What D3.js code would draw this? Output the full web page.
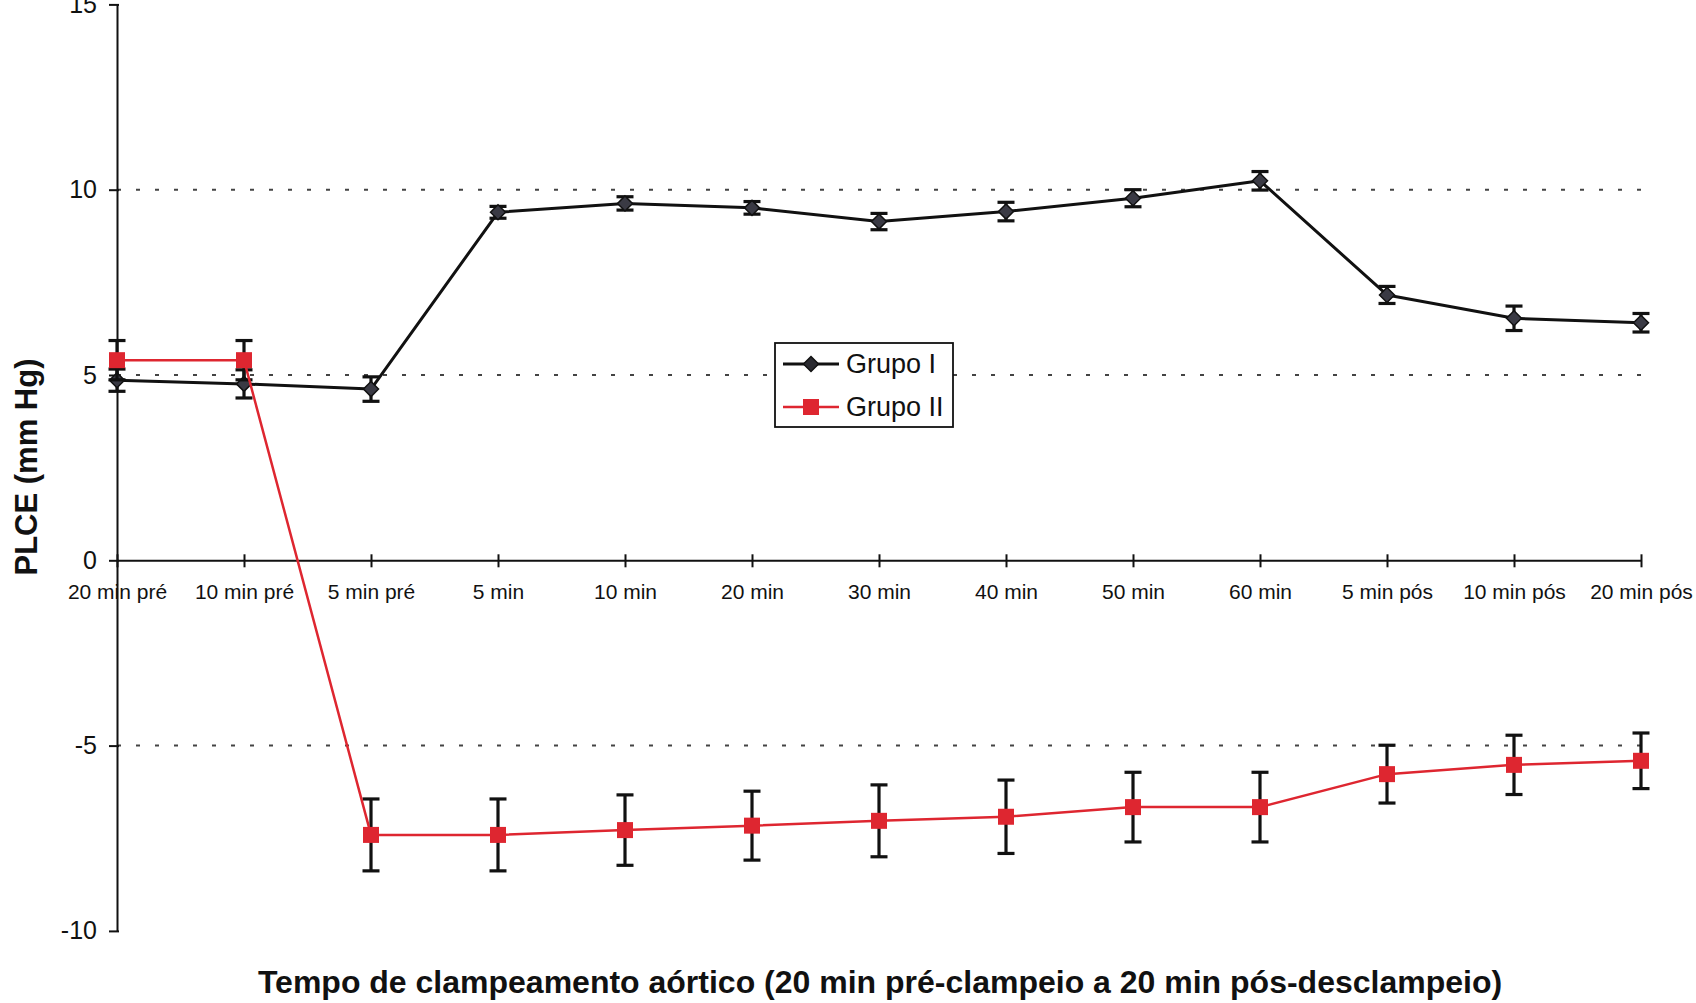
<!DOCTYPE html>
<html>
<head>
<meta charset="utf-8">
<script src="https://cdn.jsdelivr.net/npm/d3@7"></script>
<style>
  html, body { margin: 0; padding: 0; background: #fff; }
  svg { display: block; }
  text { font-family: "Liberation Sans", Arial, Helvetica, sans-serif; fill: #111; }
</style>
</head>
<body>
<svg id="chart" width="1696" height="1003"></svg>
<script>
const categories = ["20 min pré","10 min pré","5 min pré","5 min","10 min","20 min","30 min","40 min","50 min","60 min","5 min pós","10 min pós","20 min pós"];
const grupo1 = [4.86, 4.76, 4.62, 9.39, 9.63, 9.51, 9.14, 9.41, 9.77, 10.24, 7.16, 6.53, 6.41];
const grupo1Err = [0.30, 0.38, 0.33, 0.16, 0.18, 0.17, 0.22, 0.25, 0.23, 0.25, 0.23, 0.33, 0.25];
const grupo2 = [5.40, 5.40, -7.41, -7.41, -7.28, -7.16, -7.03, -6.92, -6.66, -6.66, -5.77, -5.52, -5.41];
const grupo2Err = [0.53, 0.53, 0.97, 0.97, 0.95, 0.93, 0.97, 0.99, 0.94, 0.94, 0.78, 0.80, 0.75];
const yTicks = [-10, -5, 0, 5, 10, 15];
const yTickLabels = ["-10", "-5", "0", "5", "10", "15"];
const gridValues = [-5, 5, 10];
const seriesNames = ["Grupo I", "Grupo II"];
const yTitle = "PLCE (mm Hg)";
const xTitle = "Tempo de clampeamento aórtico (20 min pré-clampeio a 20 min pós-desclampeio)";

const svg = d3.select("#chart");
svg.append("rect").attr("width", 1696).attr("height", 1003).attr("fill", "#fff");

const x = d3.scalePoint().domain(categories).range([117, 1641]);
const y = d3.scaleLinear().domain([-10, 15]).range([930.9, 4.4]);

const RED = "#de2630";

// gridlines (dotted)
svg.append("g").selectAll("line").data(gridValues).join("line")
  .attr("x1", x.range()[0]).attr("x2", x.range()[1])
  .attr("y1", d => y(d)).attr("y2", d => y(d))
  .attr("stroke", "#444").attr("stroke-width", 2)
  .attr("stroke-dasharray", "4 15");

// y axis
const yAxis = d3.axisLeft(y).tickValues(yTicks).tickSizeInner(8).tickSizeOuter(0).tickPadding(12)
  .tickFormat((d, i) => yTickLabels[i]);
const gy = svg.append("g").attr("transform", `translate(${x.range()[0]},0)`).call(yAxis);
gy.select(".domain").attr("stroke", "#111").attr("stroke-width", 2);
gy.selectAll(".tick line").attr("stroke", "#111").attr("stroke-width", 2).attr("x2", -8).attr("x1", 2);
gy.selectAll(".tick text").attr("font-size", 25).attr("fill", "#111")
  .style("font-family", '"Liberation Sans", Arial, sans-serif');

// x axis at y=0
const xAxis = d3.axisBottom(x).tickSizeInner(7).tickSizeOuter(0).tickPadding(17);
const gx = svg.append("g").attr("transform", `translate(0,${y(0)})`).call(xAxis);
gx.select(".domain").attr("stroke", "#111").attr("stroke-width", 2);
gx.selectAll(".tick line").attr("stroke", "#111").attr("stroke-width", 2).attr("y1", -6);
gx.selectAll(".tick text").attr("font-size", 21).attr("fill", "#111")
  .style("font-family", '"Liberation Sans", Arial, sans-serif');

// series drawing
function drawSeries(vals, errs, color, lineW, markerType) {
  const g = svg.append("g");
  const pts = categories.map((c, i) => ({c, v: vals[i], e: errs[i]}));
  const eb = g.append("g").attr("stroke", "#111").attr("stroke-width", 3.2).attr("fill", "none");
  eb.selectAll("line.v").data(pts).join("line").attr("class", "v")
    .attr("x1", d => x(d.c)).attr("x2", d => x(d.c))
    .attr("y1", d => y(d.v + d.e)).attr("y2", d => y(d.v - d.e));
  eb.selectAll("line.t").data(pts).join("line").attr("class", "t")
    .attr("x1", d => x(d.c) - 8.5).attr("x2", d => x(d.c) + 8.5)
    .attr("y1", d => y(d.v + d.e)).attr("y2", d => y(d.v + d.e));
  eb.selectAll("line.b").data(pts).join("line").attr("class", "b")
    .attr("x1", d => x(d.c) - 8.5).attr("x2", d => x(d.c) + 8.5)
    .attr("y1", d => y(d.v - d.e)).attr("y2", d => y(d.v - d.e));
  const line = d3.line().x(d => x(d.c)).y(d => y(d.v));
  g.append("path").datum(pts).attr("d", line).attr("fill", "none")
    .attr("stroke", color).attr("stroke-width", lineW).attr("stroke-linejoin", "round");
  if (markerType === "diamond") {
    g.selectAll("path.m").data(pts).join("path").attr("class", "m")
      .attr("d", d => { const cx = x(d.c), cy = y(d.v), r = 7.5;
        return `M${cx},${cy - r}L${cx + r},${cy}L${cx},${cy + r}L${cx - r},${cy}Z`; })
      .attr("fill", "#3a3a44").attr("stroke", "#111").attr("stroke-width", 1.5);
  } else {
    g.selectAll("rect.m").data(pts).join("rect").attr("class", "m")
      .attr("x", d => x(d.c) - 8).attr("y", d => y(d.v) - 8)
      .attr("width", 16).attr("height", 16).attr("fill", color);
  }
}
drawSeries(grupo1, grupo1Err, "#111", 3, "diamond");
drawSeries(grupo2, grupo2Err, RED, 2.5, "square");

// legend
const lg = svg.append("g");
lg.append("rect").attr("x", 775).attr("y", 343).attr("width", 178).attr("height", 84)
  .attr("fill", "#fff").attr("stroke", "#111").attr("stroke-width", 1.8);
const legendRows = [
  {name: seriesNames[0], color: "#111", type: "diamond", yy: 364},
  {name: seriesNames[1], color: RED, type: "square", yy: 407}
];
legendRows.forEach(r => {
  lg.append("line").attr("x1", 783).attr("x2", 839).attr("y1", r.yy).attr("y2", r.yy)
    .attr("stroke", r.color).attr("stroke-width", r.type === "diamond" ? 3 : 2.5);
  if (r.type === "diamond") {
    const cx = 811, cy = r.yy, s = 7.5;
    lg.append("path").attr("d", `M${cx},${cy - s}L${cx + s},${cy}L${cx},${cy + s}L${cx - s},${cy}Z`)
      .attr("fill", "#2a2a30").attr("stroke", "#111").attr("stroke-width", 1.5);
  } else {
    lg.append("rect").attr("x", 803).attr("y", r.yy - 8).attr("width", 16).attr("height", 16).attr("fill", RED);
  }
  lg.append("text").attr("x", 846).attr("y", r.yy).attr("dy", "0.35em")
    .attr("font-size", 27).text(r.name);
});

// axis titles
svg.append("text").attr("transform", "translate(37,467) rotate(-90)")
  .attr("text-anchor", "middle").attr("font-size", 31).attr("font-weight", "bold").text(yTitle);
svg.append("text").attr("x", 880).attr("y", 993)
  .attr("text-anchor", "middle").attr("font-size", 32).attr("font-weight", "bold").text(xTitle);
</script>
</body>
</html>
